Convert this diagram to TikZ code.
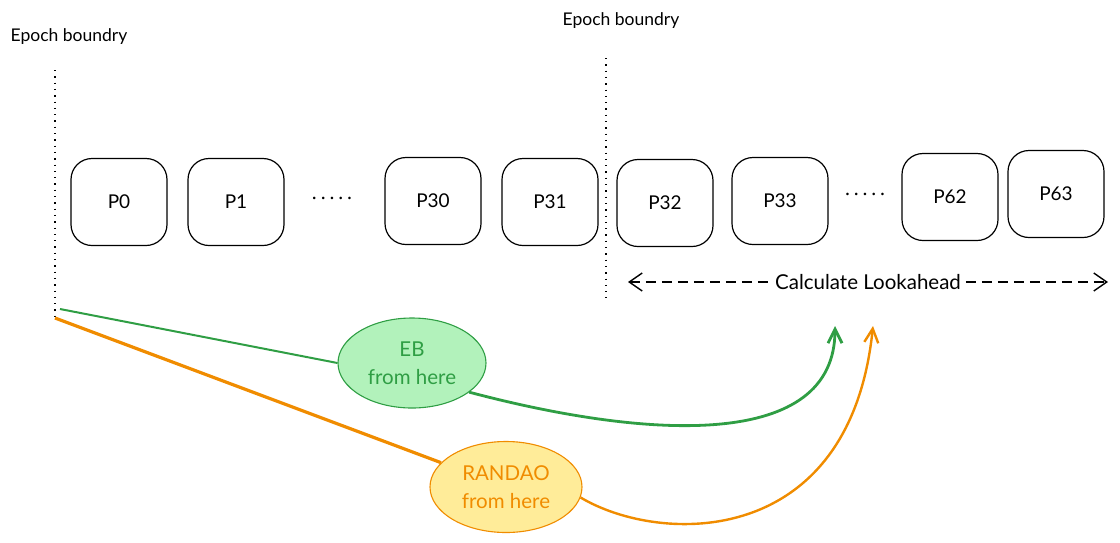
\documentclass[tikz,border=0pt]{standalone}
\usepackage{fontspec}
\setmainfont{Lato}
\usetikzlibrary{arrows.meta,shapes.geometric}
\definecolor{ebline}{HTML}{2F9E44}
\definecolor{ebfill}{HTML}{B2F2BB}
\definecolor{rdline}{HTML}{F08C00}
\definecolor{rdfill}{HTML}{FFEC99}

\begin{document}
\begin{tikzpicture}
[x=1pt, y=-1pt,
 every node/.style={align = center},
 slot/.style={draw, line width=1.2pt, rounded corners=21pt, minimum width=96pt, minimum height=87pt, inner sep=0pt, font=\fontsize{19}{22}\selectfont},
 blob/.style={ellipse, draw, line width=1.1pt, inner sep=0pt, font=\fontsize{20.5}{28}\selectfont},
 bound/.style={line width=1.3pt, dash pattern=on 1.3pt off 5pt},
 note/.style={font=\fontsize{17.5}{21}\selectfont}]
\useasboundingbox (0,0) rectangle (1120,542);
\node (e1) at (69,37) [note] {Epoch boundry};
\node (e2) at (621,21) [note] {Epoch boundry};
\coordinate (b1) at (55,70);
\coordinate (b1end) at (55,318);
\coordinate (b2) at (606,58);
\coordinate (b2end) at (606,298);
\draw [bound] (b1) -- (b1end);
\draw [bound] (b2) -- (b2end);

\node (1) at (119,202) [slot] {P0};
\node (2) at (236,202) [slot] {P1};
\node (d1) at (332,200) [font=\fontsize{17}{20}\selectfont] {· · · · ·};
\node (3) at (433,201) [slot] {P30};
\node (4) at (550,202) [slot] {P31};
\node (5) at (665,203) [slot] {P32};
\node (6) at (780,201) [slot] {P33};
\node (d2) at (865,196) [font=\fontsize{17}{20}\selectfont] {· · · · ·};
\node (7) at (950,197) [slot] {P62};
\node (8) at (1056,194) [slot] {P63};

\coordinate (la) at (628,282);
\coordinate (lb) at (1108,282);
\draw [{Straight Barb[length=13pt,width=18pt]}-{Straight Barb[length=13pt,width=18pt]}, line width=1.4pt, dash pattern=on 10pt off 6pt] (la) -- (lb);
\node (calc) at (868,282) [fill=white, inner sep=1pt, font=\fontsize{20.5}{24}\selectfont] {Calculate Lookahead};

\node (eb) at (412,363) [blob, fill=ebfill, draw=ebline, text=ebline, minimum width=148pt, minimum height=90pt] {EB\\from here};
\node (rd) at (506,487) [blob, fill=rdfill, draw=rdline, text=rdline, minimum width=152pt, minimum height=91pt] {RANDAO\\from here};

\coordinate (gs) at (60,309);
\coordinate (gt) at (835,326);
\coordinate (os) at (55,318);
\coordinate (ot) at (873,326);
\draw [ebline, line width=2pt] (gs) -- (eb.west);
\draw [ebline, line width=2.8pt, -{Straight Barb[length=14pt,width=14pt]}] (eb.-27) .. controls (650,440) and (835,450) .. (gt);
\draw [rdline, line width=3.2pt] (os) -- (rd);
\draw [rdline, line width=2.4pt, -{Straight Barb[length=14pt,width=14pt]}] (rd.-8) .. controls (660,545) and (850,550) .. (ot);
\end{tikzpicture}
\end{document}
